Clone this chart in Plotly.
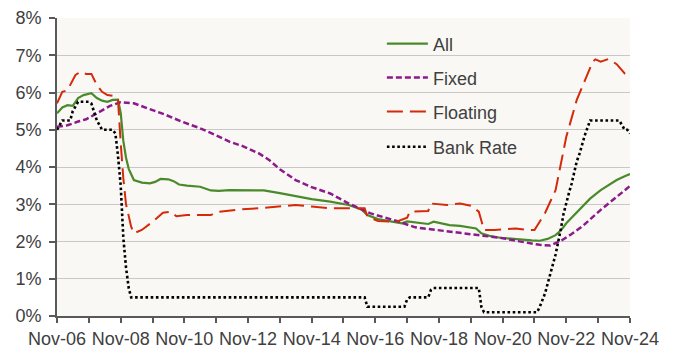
import plotly.graph_objects as go

# ---- data (monthly averages, % per year) ----
all_dates = ["2006-11","2007-01","2007-03","2007-05","2007-07","2007-09","2007-12","2008-02","2008-04",
             "2008-06","2008-08","2008-10","2008-11","2008-12","2009-01","2009-02","2009-04","2009-07",
             "2009-10","2009-12","2010-02","2010-05","2010-07","2010-09","2010-12","2011-05","2011-09",
             "2011-12","2012-04","2012-11","2013-05","2013-11","2014-05","2014-11","2015-06","2016-01",
             "2016-06","2016-08","2016-12","2017-09","2017-11","2018-07","2018-09","2019-03","2019-07",
             "2020-01","2020-03","2020-06","2020-10","2021-04","2021-10","2022-01","2022-04","2022-07",
             "2022-09","2022-11","2023-02","2023-05","2023-08","2023-12","2024-03","2024-06","2024-09","2024-11"]
all_vals = [5.44,5.60,5.66,5.64,5.85,5.93,5.98,5.85,5.78,
            5.75,5.80,5.81,5.45,4.70,4.25,3.95,3.65,3.58,
            3.56,3.60,3.68,3.67,3.62,3.53,3.50,3.47,3.37,
            3.36,3.38,3.38,3.37,3.30,3.22,3.14,3.07,2.98,
            2.85,2.71,2.60,2.49,2.54,2.47,2.53,2.44,2.42,
            2.35,2.22,2.15,2.10,2.06,2.03,2.02,2.07,2.17,
            2.30,2.49,2.72,2.93,3.15,3.38,3.52,3.65,3.75,3.81]

fixed_dates = ["2006-11","2007-03","2007-07","2007-10","2008-02","2008-07","2008-11","2009-04","2009-09",
               "2010-04","2010-10","2011-05","2011-11","2012-04","2012-09","2013-03","2013-07","2013-11",
               "2014-05","2014-11","2015-06","2016-01","2016-09","2017-08","2018-02","2019-03","2020-03",
               "2020-11","2021-04","2022-01","2022-05","2022-09","2023-01","2023-05","2023-12","2024-06","2024-11"]
fixed_vals = [5.08,5.12,5.22,5.28,5.44,5.64,5.74,5.71,5.58,
              5.40,5.22,5.04,4.85,4.68,4.56,4.37,4.19,3.94,
              3.65,3.46,3.29,3.02,2.76,2.53,2.38,2.26,2.16,
              2.09,2.02,1.91,1.89,2.02,2.20,2.40,2.85,3.20,3.49]

float_dates = ["2006-11","2007-01","2007-03","2007-05","2007-06","2007-08","2007-10","2007-12","2008-02",
               "2008-04","2008-06","2008-09","2008-10","2008-11","2008-12","2009-01","2009-03","2009-04",
               "2009-07","2009-11","2010-03","2010-06","2010-08","2010-12","2011-09","2011-12","2012-08",
               "2013-05","2014-05","2014-11","2015-06","2016-07","2016-08","2016-12","2017-07","2017-11",
               "2017-12","2018-07","2018-08","2019-02","2019-07","2019-11","2020-02","2020-04","2020-08",
               "2021-04","2021-08","2021-11","2022-03","2022-07","2022-11","2023-03","2023-06","2023-09",
               "2023-10","2023-12","2024-03","2024-06","2024-09","2024-11"]
float_vals = [5.71,6.02,6.06,6.34,6.47,6.56,6.50,6.50,6.20,
              6.02,5.93,5.90,5.80,4.64,3.70,3.00,2.40,2.22,
              2.31,2.53,2.77,2.80,2.68,2.71,2.71,2.80,2.86,
              2.90,2.98,2.94,2.89,2.89,2.67,2.55,2.53,2.64,
              2.80,2.82,3.02,2.98,3.02,2.96,2.80,2.31,2.31,
              2.35,2.31,2.31,2.76,3.38,4.81,5.80,6.34,6.83,
              6.89,6.83,6.90,6.76,6.51,6.44]

bank_dates = ["2006-11","2007-01","2007-04","2007-05","2007-07","2007-11","2007-12","2008-02","2008-04",
              "2008-08","2008-09","2008-10","2008-11","2008-12","2009-01","2009-02","2009-03","2016-07",
              "2016-08","2017-10","2017-11","2017-12","2018-07","2018-08","2018-09","2020-02","2020-03",
              "2020-04","2021-12","2022-01","2022-03","2022-05","2022-07","2022-09","2022-10","2022-12",
              "2023-01","2023-03","2023-04","2023-06","2023-07","2023-08","2024-07","2024-09","2024-10","2024-11"]
bank_vals = [5.00,5.25,5.25,5.50,5.75,5.75,5.70,5.25,5.00,
             5.00,4.90,4.30,3.50,2.10,1.30,0.75,0.50,0.50,
             0.25,0.25,0.45,0.50,0.50,0.70,0.75,0.75,0.25,
             0.10,0.10,0.25,0.60,1.10,1.65,2.35,2.75,3.30,
             3.55,4.15,4.35,4.85,5.05,5.25,5.25,5.00,5.00,4.90]

series_names = ["All", "Fixed", "Floating", "Bank Rate"]
y_ticks = [0, 1, 2, 3, 4, 5, 6, 7, 8]

# ---- figure ----
fig = go.Figure()
styles = [
    dict(color="#4a8a2a", width=2.2, dash="solid"),
    dict(color="#8b1a8b", width=2.5, dash="6px,3px"),
    dict(color="#d42a0a", width=2.0, dash="16px,7px"),
    dict(color="#000000", width=2.6, dash="2.6px,2.6px"),
]
legend_ids = ["legend", "legend2", "legend3", "legend4"]
legend_y = [0.913, 0.799, 0.685, 0.567]
data = [(all_dates, all_vals), (fixed_dates, fixed_vals), (float_dates, float_vals), (bank_dates, bank_vals)]
for (d, v), name, st, lid in zip(data, series_names, styles, legend_ids):
    fig.add_trace(go.Scatter(x=[s + "-01" for s in d], y=v, mode="lines", name=name,
                             line=st, legend=lid))

txt = "#404040"
legend_common = dict(x=0.567, xanchor="left", yanchor="middle", bgcolor="rgba(0,0,0,0)",
                     font=dict(size=18, color=txt), itemwidth=41)
legend_layout = {lid: dict(legend_common, y=ly) for lid, ly in zip(legend_ids, legend_y)}

# page body has an 8px default margin, so the figure is 672x350 and placed at (8, 8)
fig.update_layout(
    width=672, height=350,
    margin=dict(l=49, r=50, t=10, b=42, autoexpand=False),
    paper_bgcolor="white",
    plot_bgcolor="#f9f8f5",
    font=dict(family="Liberation Sans, Arial, sans-serif", size=18, color=txt),
    showlegend=True,
    xaxis=dict(
        type="date", automargin=False,
        range=["2006-11-01", "2024-11-01"],
        tick0="2006-11-01", dtick="M24", tickformat="%b-%y",
        ticks="outside", ticklen=5, tickwidth=1.5, tickcolor="#595959",
        minor=dict(ticks="outside", ticklen=5, tickwidth=1.5, tickcolor="#595959", dtick="M12",
                   tick0="2006-11-01", showgrid=False),
        showgrid=False, showline=True, linecolor="#595959", linewidth=2,
        ticklabelstandoff=0,
        tickfont=dict(size=18, color=txt),
    ),
    yaxis=dict(
        range=[0, 8], tickvals=y_ticks, ticktext=[f"{t}%" for t in y_ticks], automargin=False,
        ticks="outside", ticklen=6, tickwidth=1.5, tickcolor="#595959",
        showgrid=True, gridcolor="#c8c8c8", gridwidth=1.3,
        showline=True, linecolor="#595959", linewidth=2, zeroline=False,
        ticklabelstandoff=4,
        tickfont=dict(size=18, color=txt),
    ),
    **legend_layout,
)

fig.write_html("out.html")
